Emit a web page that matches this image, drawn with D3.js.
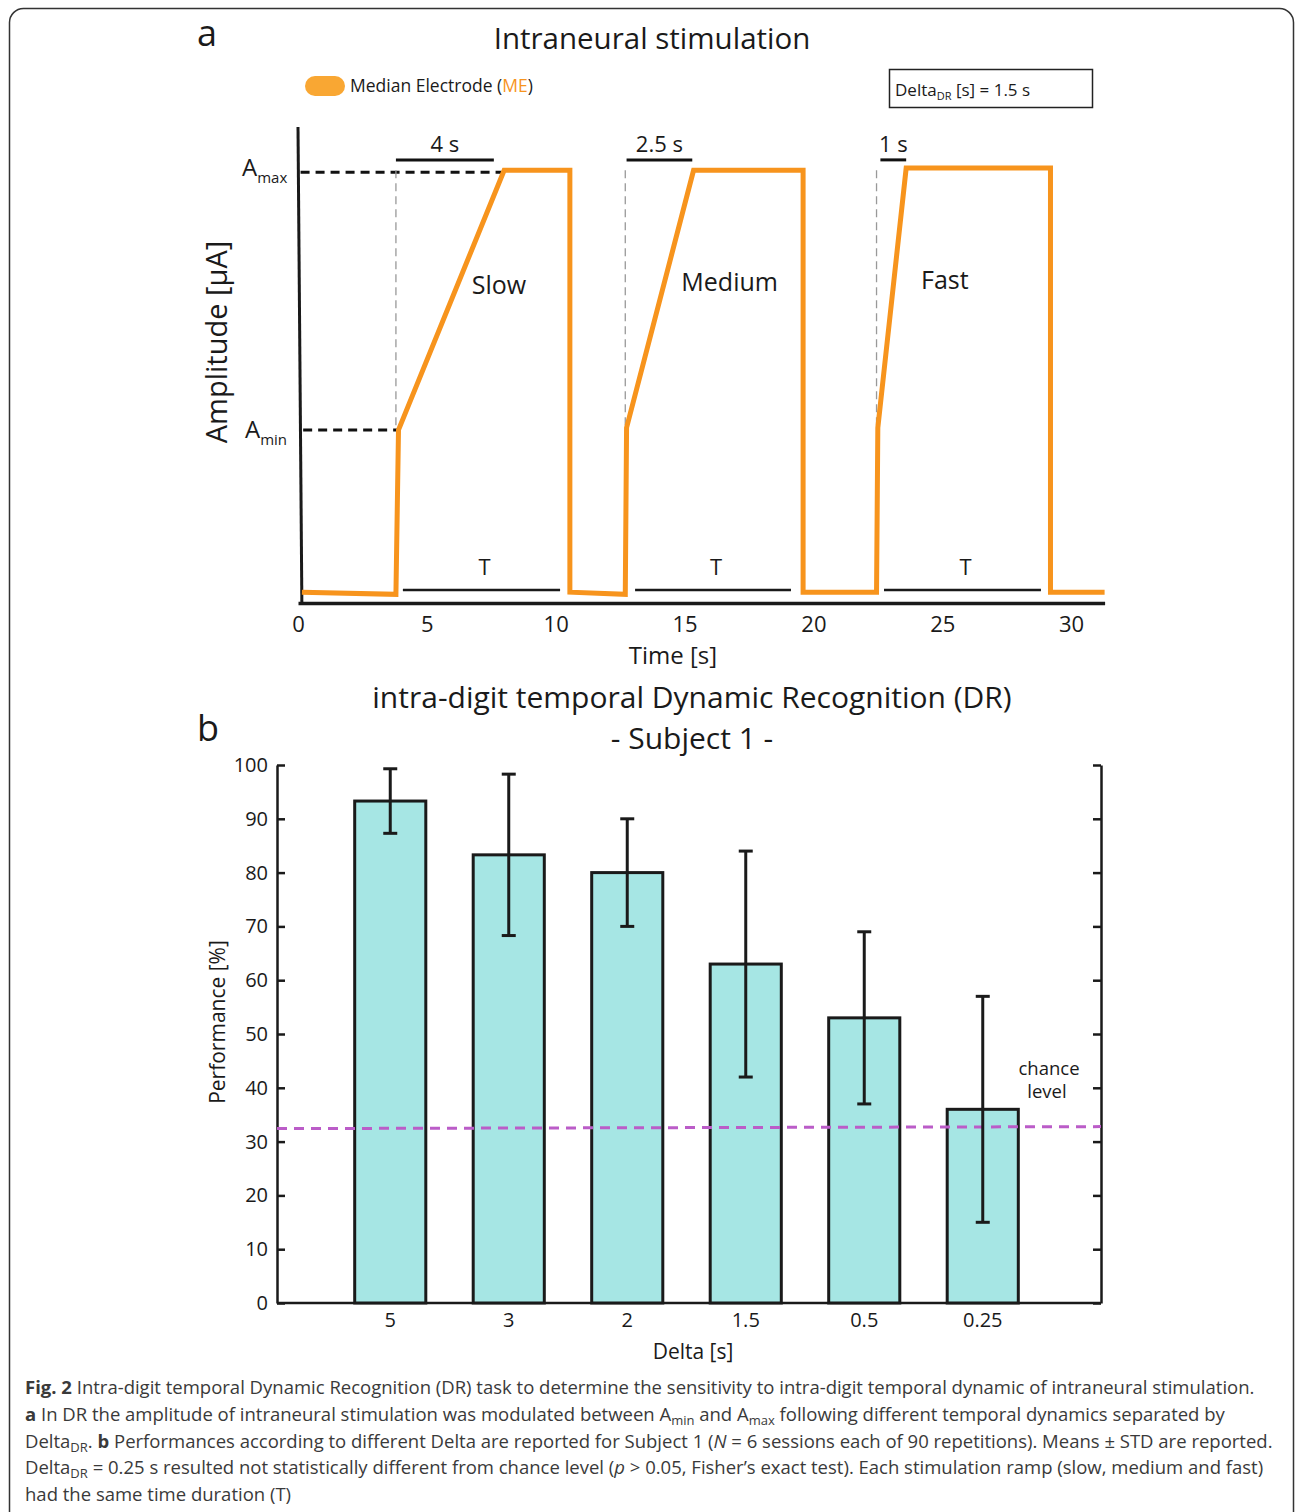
<!DOCTYPE html>
<html lang="en">
<head>
<meta charset="UTF-8">
<title>Fig. 2 - Intraneural stimulation / Dynamic Recognition</title>
<script src="https://cdnjs.cloudflare.com/ajax/libs/d3/7.8.5/d3.min.js"></script>
<style>
  body { margin: 0; background: #fff; }
  svg text { font-family: "Open Sans", sans-serif; fill: #1a1a1a; }
  .axis path, .axis line { stroke: #1a1a1a; }
</style>
</head>
<body>
<div id="fig"></div>
<script>
// ---- panel a : stimulation waveform (time in s, amplitude in arbitrary units, Amin = 40, Amax = 100)
const waveTime = [0.15, 3.8, 3.9, 8.0, 10.55, 10.55, 12.7, 12.75, 15.35, 19.6, 19.6, 22.45, 22.5, 23.6, 29.2, 29.2, 31.3];
const waveAmp  = [2.5, 2, 40, 100, 100, 2.5, 2, 40.5, 100, 100, 2.5, 2.5, 40.5, 100.5, 100.5, 2.5, 2.5];
const timeTicks = [0, 5, 10, 15, 20, 25, 30];
const ampMin = 40, ampMax = 100;
const rampNames = ["Slow", "Medium", "Fast"];
const rampNameTime = [7.8, 16.75, 25.1];
const rampNameAmp = [71.5, 72, 72.5];
const rampOnset = [3.8, 12.7, 22.45];
const rampLabels = ["4 s", "2.5 s", "1 s"];
const rampBarStart = [3.8, 12.75, 22.6];
const rampBarEnd = [7.6, 15.3, 23.6];
const tBarStart = [4.07, 13.08, 22.74];
const tBarEnd = [10.17, 19.13, 28.83];

// ---- panel b : performance per Delta
const deltaLabels = ["5", "3", "2", "1.5", "0.5", "0.25"];
const performance = [93.3, 83.3, 80, 63, 53, 36];
const perfStd = [6, 15, 10, 21, 16, 21];
const perfTicks = [0, 10, 20, 30, 40, 50, 60, 70, 80, 90, 100];
const chanceLevel = 32.6;

const W = 1295, H = 1512;
const orange = "#f7941d";

const svg = d3.select("#fig").append("svg")
    .attr("width", W).attr("height", H);

// frame of the figure
svg.append("rect")
    .attr("x", 9.5).attr("y", 8.5).attr("width", 1284).attr("height", 1530)
    .attr("rx", 14).attr("fill", "none").attr("stroke", "#333").attr("stroke-width", 1.5);

// small helper for text with subscripts / mixed styles
function rich(sel, parts, size) {
    let shift = 0;
    parts.forEach(p => {
        const ts = sel.append("tspan").text(p.t);
        if (p.sub) {
            ts.attr("font-size", p.size || size * 0.65).attr("dy", p.shift - shift);
            shift = p.shift;
        } else if (shift) {
            ts.attr("dy", -shift);
            shift = 0;
        }
        if (p.bold) ts.attr("font-weight", 700);
        if (p.italic) ts.attr("font-style", "italic");
        if (p.fill) ts.style("fill", p.fill);
    });
    return sel;
}

// =========================== panel a
const xa = d3.scaleLinear().domain([0, 31.3]).range([298, 1104.6]);
const ya = d3.scaleLinear().domain([0, 110]).range([603, 127]);
const ga = svg.append("g");

ga.append("text").attr("x", 197).attr("y", 46).attr("font-size", 36).text("a");
ga.append("text").attr("x", 652).attr("y", 49).attr("text-anchor", "middle")
    .attr("font-size", 29.5).text("Intraneural stimulation");

// legend
ga.append("rect").attr("x", 305).attr("y", 76).attr("width", 40).attr("height", 20)
    .attr("rx", 10).attr("fill", "#f9a733");
rich(ga.append("text").attr("x", 350).attr("y", 92).attr("font-size", 17.5),
    [{t: "Median Electrode ("}, {t: "ME", fill: orange}, {t: ")"}], 17.5);

// Delta box
ga.append("rect").attr("x", 889.5).attr("y", 69.5).attr("width", 203).attr("height", 38)
    .attr("fill", "none").attr("stroke", "#222").attr("stroke-width", 1.5);
rich(ga.append("text").attr("x", 895).attr("y", 96).attr("font-size", 17),
    [{t: "Delta"}, {t: "DR", sub: true, shift: 4, size: 11}, {t: " [s] = 1.5 s"}], 17);

// x axis
const xAxisA = ga.append("g").attr("class", "axis")
    .attr("transform", `translate(0,${ya(0)})`)
    .call(d3.axisBottom(xa).tickValues(timeTicks).tickSize(0).tickPadding(13));
xAxisA.select(".domain").attr("stroke-width", 3.5);
xAxisA.selectAll("text").attr("font-size", 22).style("font-family", "Open Sans");

// y axis (plain line, slightly slanted like the drawing)
ga.append("line")
    .attr("x1", xa(0)).attr("y1", ya(110))
    .attr("x2", xa(0.15)).attr("y2", ya(0))
    .attr("stroke", "#1a1a1a").attr("stroke-width", 3);

ga.append("text").attr("transform", `translate(227,342) rotate(-90)`)
    .attr("text-anchor", "middle").attr("font-size", 29).text("Amplitude [\u00b5A]");
ga.append("text").attr("x", 673).attr("y", 664).attr("text-anchor", "middle")
    .attr("font-size", 24).text("Time [s]");

// Amax / Amin references
ga.append("line").attr("x1", xa(0.1)).attr("x2", xa(7.9))
    .attr("y1", ya(ampMax) + 2).attr("y2", ya(ampMax) + 2)
    .attr("stroke", "#111").attr("stroke-width", 3).attr("stroke-dasharray", "9,6");
ga.append("line").attr("x1", xa(0.2)).attr("x2", xa(3.9))
    .attr("y1", ya(ampMin)).attr("y2", ya(ampMin))
    .attr("stroke", "#111").attr("stroke-width", 3).attr("stroke-dasharray", "9,6");
rich(ga.append("text").attr("x", 242).attr("y", ya(ampMax) + 6).attr("font-size", 24),
    [{t: "A"}, {t: "max", sub: true, shift: 7, size: 15}], 24);
rich(ga.append("text").attr("x", 245).attr("y", ya(ampMin) + 8).attr("font-size", 24),
    [{t: "A"}, {t: "min", sub: true, shift: 7, size: 15}], 24);

// thin grey guides at each ramp onset
ga.selectAll(".guide").data(rampOnset).enter().append("line")
    .attr("x1", d => xa(d)).attr("x2", d => xa(d))
    .attr("y1", ya(ampMax)).attr("y2", (d, i) => ya(i ? ampMin + 1 : ampMin))
    .attr("stroke", "#999").attr("stroke-width", 1.3).attr("stroke-dasharray", "8,5");

// ramp duration bars
ga.selectAll(".rampbar").data(rampLabels).enter().append("line")
    .attr("x1", (d, i) => xa(rampBarStart[i])).attr("x2", (d, i) => xa(rampBarEnd[i]))
    .attr("y1", ya(102.4)).attr("y2", ya(102.4))
    .attr("stroke", "#111").attr("stroke-width", 3);
ga.selectAll(".ramplab").data(rampLabels).enter().append("text")
    .attr("x", (d, i) => (xa(rampBarStart[i]) + xa(rampBarEnd[i])) / 2)
    .attr("y", ya(104.3)).attr("text-anchor", "middle").attr("font-size", 22)
    .text(d => d);

// T bars
ga.selectAll(".tbar").data(tBarStart).enter().append("line")
    .attr("x1", d => xa(d)).attr("x2", (d, i) => xa(tBarEnd[i]))
    .attr("y1", ya(3)).attr("y2", ya(3))
    .attr("stroke", "#1a1a1a").attr("stroke-width", 2.5);
ga.selectAll(".tlab").data(tBarStart).enter().append("text")
    .attr("x", (d, i) => (xa(d) + xa(tBarEnd[i])) / 2 + 3)
    .attr("y", ya(6.4)).attr("text-anchor", "middle").attr("font-size", 22).text("T");

// waveform
const wave = waveTime.map((t, i) => [t, waveAmp[i]]);
ga.append("path").datum(wave)
    .attr("d", d3.line().x(d => xa(d[0])).y(d => ya(d[1])))
    .attr("fill", "none").attr("stroke", orange).attr("stroke-width", 5)
    .attr("stroke-linejoin", "miter");

ga.selectAll(".rname").data(rampNames).enter().append("text")
    .attr("x", (d, i) => xa(rampNameTime[i])).attr("y", (d, i) => ya(rampNameAmp[i]))
    .attr("text-anchor", "middle").attr("font-size", 25).text(d => d);

// =========================== panel b
const xb = d3.scaleBand().domain(deltaLabels).range([331, 1042])
    .paddingInner(0.4).paddingOuter(0.2);
const yb = d3.scaleLinear().domain([0, 100]).range([1303, 765]);
const gb = svg.append("g");

gb.append("text").attr("x", 197).attr("y", 741).attr("font-size", 36).text("b");
gb.append("text").attr("x", 692).attr("y", 708).attr("text-anchor", "middle")
    .attr("font-size", 30).text("intra-digit temporal Dynamic Recognition (DR)");
gb.append("text").attr("x", 692).attr("y", 749).attr("text-anchor", "middle")
    .attr("font-size", 30).text("- Subject 1 -");

const yAxisL = gb.append("g").attr("class", "axis")
    .attr("transform", "translate(277,0)")
    .call(d3.axisLeft(yb).tickValues(perfTicks).tickSizeInner(-8).tickSizeOuter(0).tickPadding(9));
const yAxisR = gb.append("g").attr("class", "axis")
    .attr("transform", "translate(1101,0)")
    .call(d3.axisRight(yb).tickValues(perfTicks).tickSizeInner(-8).tickSizeOuter(0).tickFormat(""));
[yAxisL, yAxisR].forEach(a => {
    a.select(".domain").attr("stroke-width", 2.5);
    a.selectAll(".tick line").attr("stroke-width", 2.5);
});
yAxisL.selectAll("text").attr("font-size", 20).style("font-family", "Open Sans");

gb.append("line").attr("x1", 277).attr("x2", 1101)
    .attr("y1", yb(0)).attr("y2", yb(0))
    .attr("stroke", "#1a1a1a").attr("stroke-width", 2.5);

const xAxisB = gb.append("g").attr("class", "axis")
    .attr("transform", `translate(0,${yb(0)})`)
    .call(d3.axisBottom(xb).tickSize(0).tickPadding(10));
xAxisB.select(".domain").remove();
xAxisB.selectAll("text").attr("font-size", 20).style("font-family", "Open Sans");

gb.append("text").attr("transform", "translate(225,1022) rotate(-90)")
    .attr("text-anchor", "middle").attr("font-size", 21).text("Performance  [%]");
gb.append("text").attr("x", 693).attr("y", 1359).attr("text-anchor", "middle")
    .attr("font-size", 21).text("Delta [s]");

// bars
gb.selectAll(".bar").data(deltaLabels).enter().append("rect")
    .attr("x", d => xb(d)).attr("width", xb.bandwidth())
    .attr("y", (d, i) => yb(performance[i]))
    .attr("height", (d, i) => yb(0) - yb(performance[i]))
    .attr("fill", "#a6e6e4").attr("stroke", "#1a1a1a").attr("stroke-width", 3);

// chance level
gb.append("line").attr("x1", 277).attr("x2", 1101)
    .attr("y1", yb(chanceLevel) + 1).attr("y2", yb(chanceLevel) - 1)
    .attr("stroke", "#bb5cc8").attr("stroke-width", 3).attr("stroke-dasharray", "10,7");
gb.append("text").attr("x", 1049).attr("y", 1075).attr("text-anchor", "middle")
    .attr("font-size", 18.5).text("chance");
gb.append("text").attr("x", 1047).attr("y", 1098).attr("text-anchor", "middle")
    .attr("font-size", 18.5).text("level");

// error bars
const err = gb.selectAll(".err").data(deltaLabels).enter().append("g")
    .attr("stroke", "#1a1a1a").attr("stroke-width", 3);
const cx = d => xb(d) + xb.bandwidth() / 2;
err.append("line").attr("x1", cx).attr("x2", cx)
    .attr("y1", (d, i) => yb(performance[i] - perfStd[i]))
    .attr("y2", (d, i) => yb(performance[i] + perfStd[i]));
err.append("line").attr("x1", d => cx(d) - 7).attr("x2", d => cx(d) + 7)
    .attr("y1", (d, i) => yb(performance[i] + perfStd[i]))
    .attr("y2", (d, i) => yb(performance[i] + perfStd[i]));
err.append("line").attr("x1", d => cx(d) - 7).attr("x2", d => cx(d) + 7)
    .attr("y1", (d, i) => yb(performance[i] - perfStd[i]))
    .attr("y2", (d, i) => yb(performance[i] - perfStd[i]));

// =========================== caption
const capSize = 18.5;
const capLines = [
    [{t: "Fig. 2", bold: true}, {t: " Intra-digit temporal Dynamic Recognition (DR) task to determine the sensitivity to intra-digit temporal dynamic of intraneural stimulation."}],
    [{t: "a", bold: true}, {t: " In DR the amplitude of intraneural stimulation was modulated between A"}, {t: "min", sub: true, shift: 4, size: 13},
     {t: " and A"}, {t: "max", sub: true, shift: 4, size: 13}, {t: " following different temporal dynamics separated by"}],
    [{t: "Delta"}, {t: "DR", sub: true, shift: 4, size: 13}, {t: ". "}, {t: "b", bold: true},
     {t: " Performances according to different Delta are reported for Subject 1 ("}, {t: "N", italic: true},
     {t: " = 6 sessions each of 90 repetitions). Means \u00b1 STD are reported."}],
    [{t: "Delta"}, {t: "DR", sub: true, shift: 4, size: 13},
     {t: " = 0.25 s resulted not statistically different from chance level ("}, {t: "p", italic: true},
     {t: " > 0.05, Fisher\u2019s exact test). Each stimulation ramp (slow, medium and fast)"}],
    [{t: "had the same time duration (T)"}]
];
capLines.forEach((parts, i) => {
    const t = svg.append("text").attr("x", 25).attr("y", 1394 + i * 26.8)
        .attr("font-size", capSize).style("fill", "#3a3a3a");
    rich(t, parts, capSize);
});
</script>
</body>
</html>
